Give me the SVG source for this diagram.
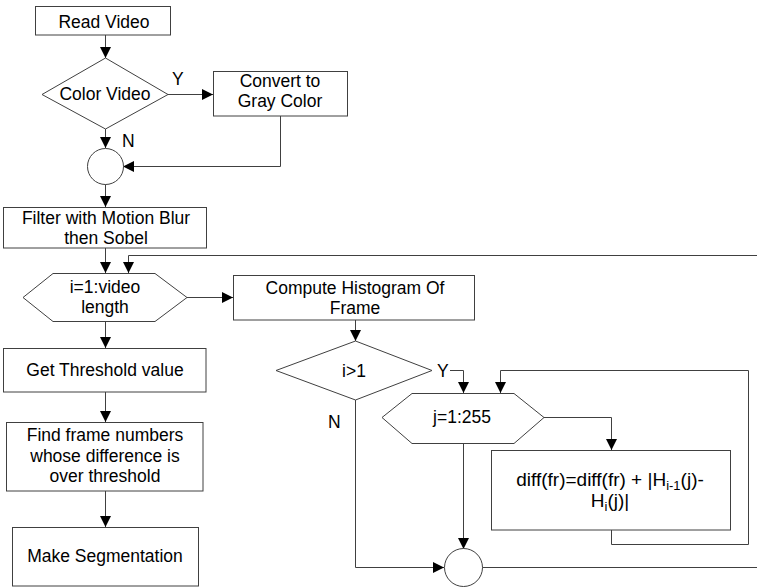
<svg xmlns="http://www.w3.org/2000/svg" width="757" height="587" viewBox="0 0 757 587">
<defs>
<marker id="ah" markerUnits="userSpaceOnUse" markerWidth="11" markerHeight="11" refX="11" refY="5.5" orient="auto">
<path d="M0,0 L11,5.5 L0,11 z" fill="#000"/>
</marker>
<style>
.s{fill:#fff;stroke:#404040;stroke-width:1}
.c{fill:none;stroke:#404040;stroke-width:1}
.a{marker-end:url(#ah)}
text{font-family:"Liberation Sans",Arial,sans-serif;font-size:17.5px;fill:#000}
.m{text-anchor:middle}
.big{font-size:19px}
</style>
</defs>
<rect width="757" height="587" fill="#fff"/>
<g id="connectors">
<path class="c a" d="M105.5,35 V58"/>
<path class="c a" d="M168,94.5 H213"/>
<path class="c a" d="M105.5,129 V148"/>
<path class="c a" d="M280.5,116 V166.5 H123"/>
<path class="c a" d="M105.5,184 V207"/>
<path class="c a" d="M105.5,248 V273"/>
<path class="c a" d="M757,255.5 H128.5 V273"/>
<path class="c a" d="M187,297.5 H233"/>
<path class="c a" d="M105.5,321 V348"/>
<path class="c a" d="M105.5,392 V422"/>
<path class="c a" d="M105.5,491 V527"/>
<path class="c a" d="M355.5,320 V341"/>
<path class="c a" d="M450,370.5 H463.5 V393"/>
<path class="c a" d="M611.5,530 V544.5 H748.5 V370.5 H500.5 V393"/>
<path class="c a" d="M544,417.5 H611.5 V450"/>
<path class="c a" d="M463.5,443 V549"/>
<path class="c a" d="M355.5,400 V567.5 H444"/>
<path class="c" d="M482,567.5 H757"/>
<text x="172" y="85">Y</text>
<text x="122" y="147">N</text>
<text x="437" y="377">Y</text>
<text x="328" y="428">N</text>
</g>
<g id="read-video">
<rect class="s" x="35.5" y="6.5" width="135" height="28.5"/>
<text class="m" x="104" y="28">Read Video</text>
</g>
<g id="color-video">
<polygon class="s" points="42,94.5 105.5,58 168,94.5 105.5,129"/>
<text class="m" x="105" y="100">Color Video</text>
</g>
<g id="convert-gray">
<rect class="s" x="213.5" y="71.5" width="134" height="44.5"/>
<text class="m" x="280" y="87">Convert to</text>
<text class="m" x="280" y="107">Gray Color</text>
</g>
<g id="join-1">
<circle class="s" cx="105.5" cy="166.5" r="18"/>
</g>
<g id="filter">
<rect class="s" x="3.5" y="207.5" width="203" height="40.5"/>
<text class="m" x="106" y="224">Filter with Motion Blur</text>
<text class="m" x="106" y="244">then Sobel</text>
</g>
<g id="loop-i">
<polygon class="s" points="23,297.5 53,273.5 155,273.5 187,297.5 155,321.5 53,321.5"/>
<text class="m" x="105" y="293">i=1:video</text>
<text class="m" x="105" y="313">length</text>
</g>
<g id="compute-histogram">
<rect class="s" x="233.5" y="275.5" width="241" height="44.5"/>
<text class="m" x="355" y="294">Compute Histogram Of</text>
<text class="m" x="355" y="314">Frame</text>
</g>
<g id="get-threshold">
<rect class="s" x="3.5" y="348.5" width="202.5" height="43.5"/>
<text class="m" x="105" y="376">Get Threshold value</text>
</g>
<g id="find-frames">
<rect class="s" x="6.5" y="422.5" width="196.5" height="68.5"/>
<text class="m" x="105" y="441">Find frame numbers</text>
<text class="m" x="105" y="462">whose difference is</text>
<text class="m" x="105" y="482">over threshold</text>
</g>
<g id="make-segmentation">
<rect class="s" x="12.5" y="527.5" width="186" height="58.5"/>
<text class="m" x="105" y="562">Make Segmentation</text>
</g>
<g id="decision-i">
<polygon class="s" points="276,370.5 355.5,341 432,370.5 355.5,400"/>
<text class="m" x="354" y="377">i&gt;1</text>
</g>
<g id="loop-j">
<polygon class="s" points="382,417.5 412,393.5 514,393.5 544,417.5 514,443.5 412,443.5"/>
<text class="m" x="462" y="423">j=1:255</text>
</g>
<g id="diff-update">
<rect class="s" x="491.5" y="450.5" width="239" height="79.5"/>
<text class="m big" x="610" y="486">diff(fr)=diff(fr) + |H<tspan font-size="13" dy="4">i-1</tspan><tspan dy="-4">(j)-</tspan></text>
<text class="m big" x="610" y="507">H<tspan font-size="13" dy="4">i</tspan><tspan dy="-4">(j)|</tspan></text>
</g>
<g id="join-2">
<circle class="s" cx="463.5" cy="567.5" r="19"/>
</g>
</svg>
